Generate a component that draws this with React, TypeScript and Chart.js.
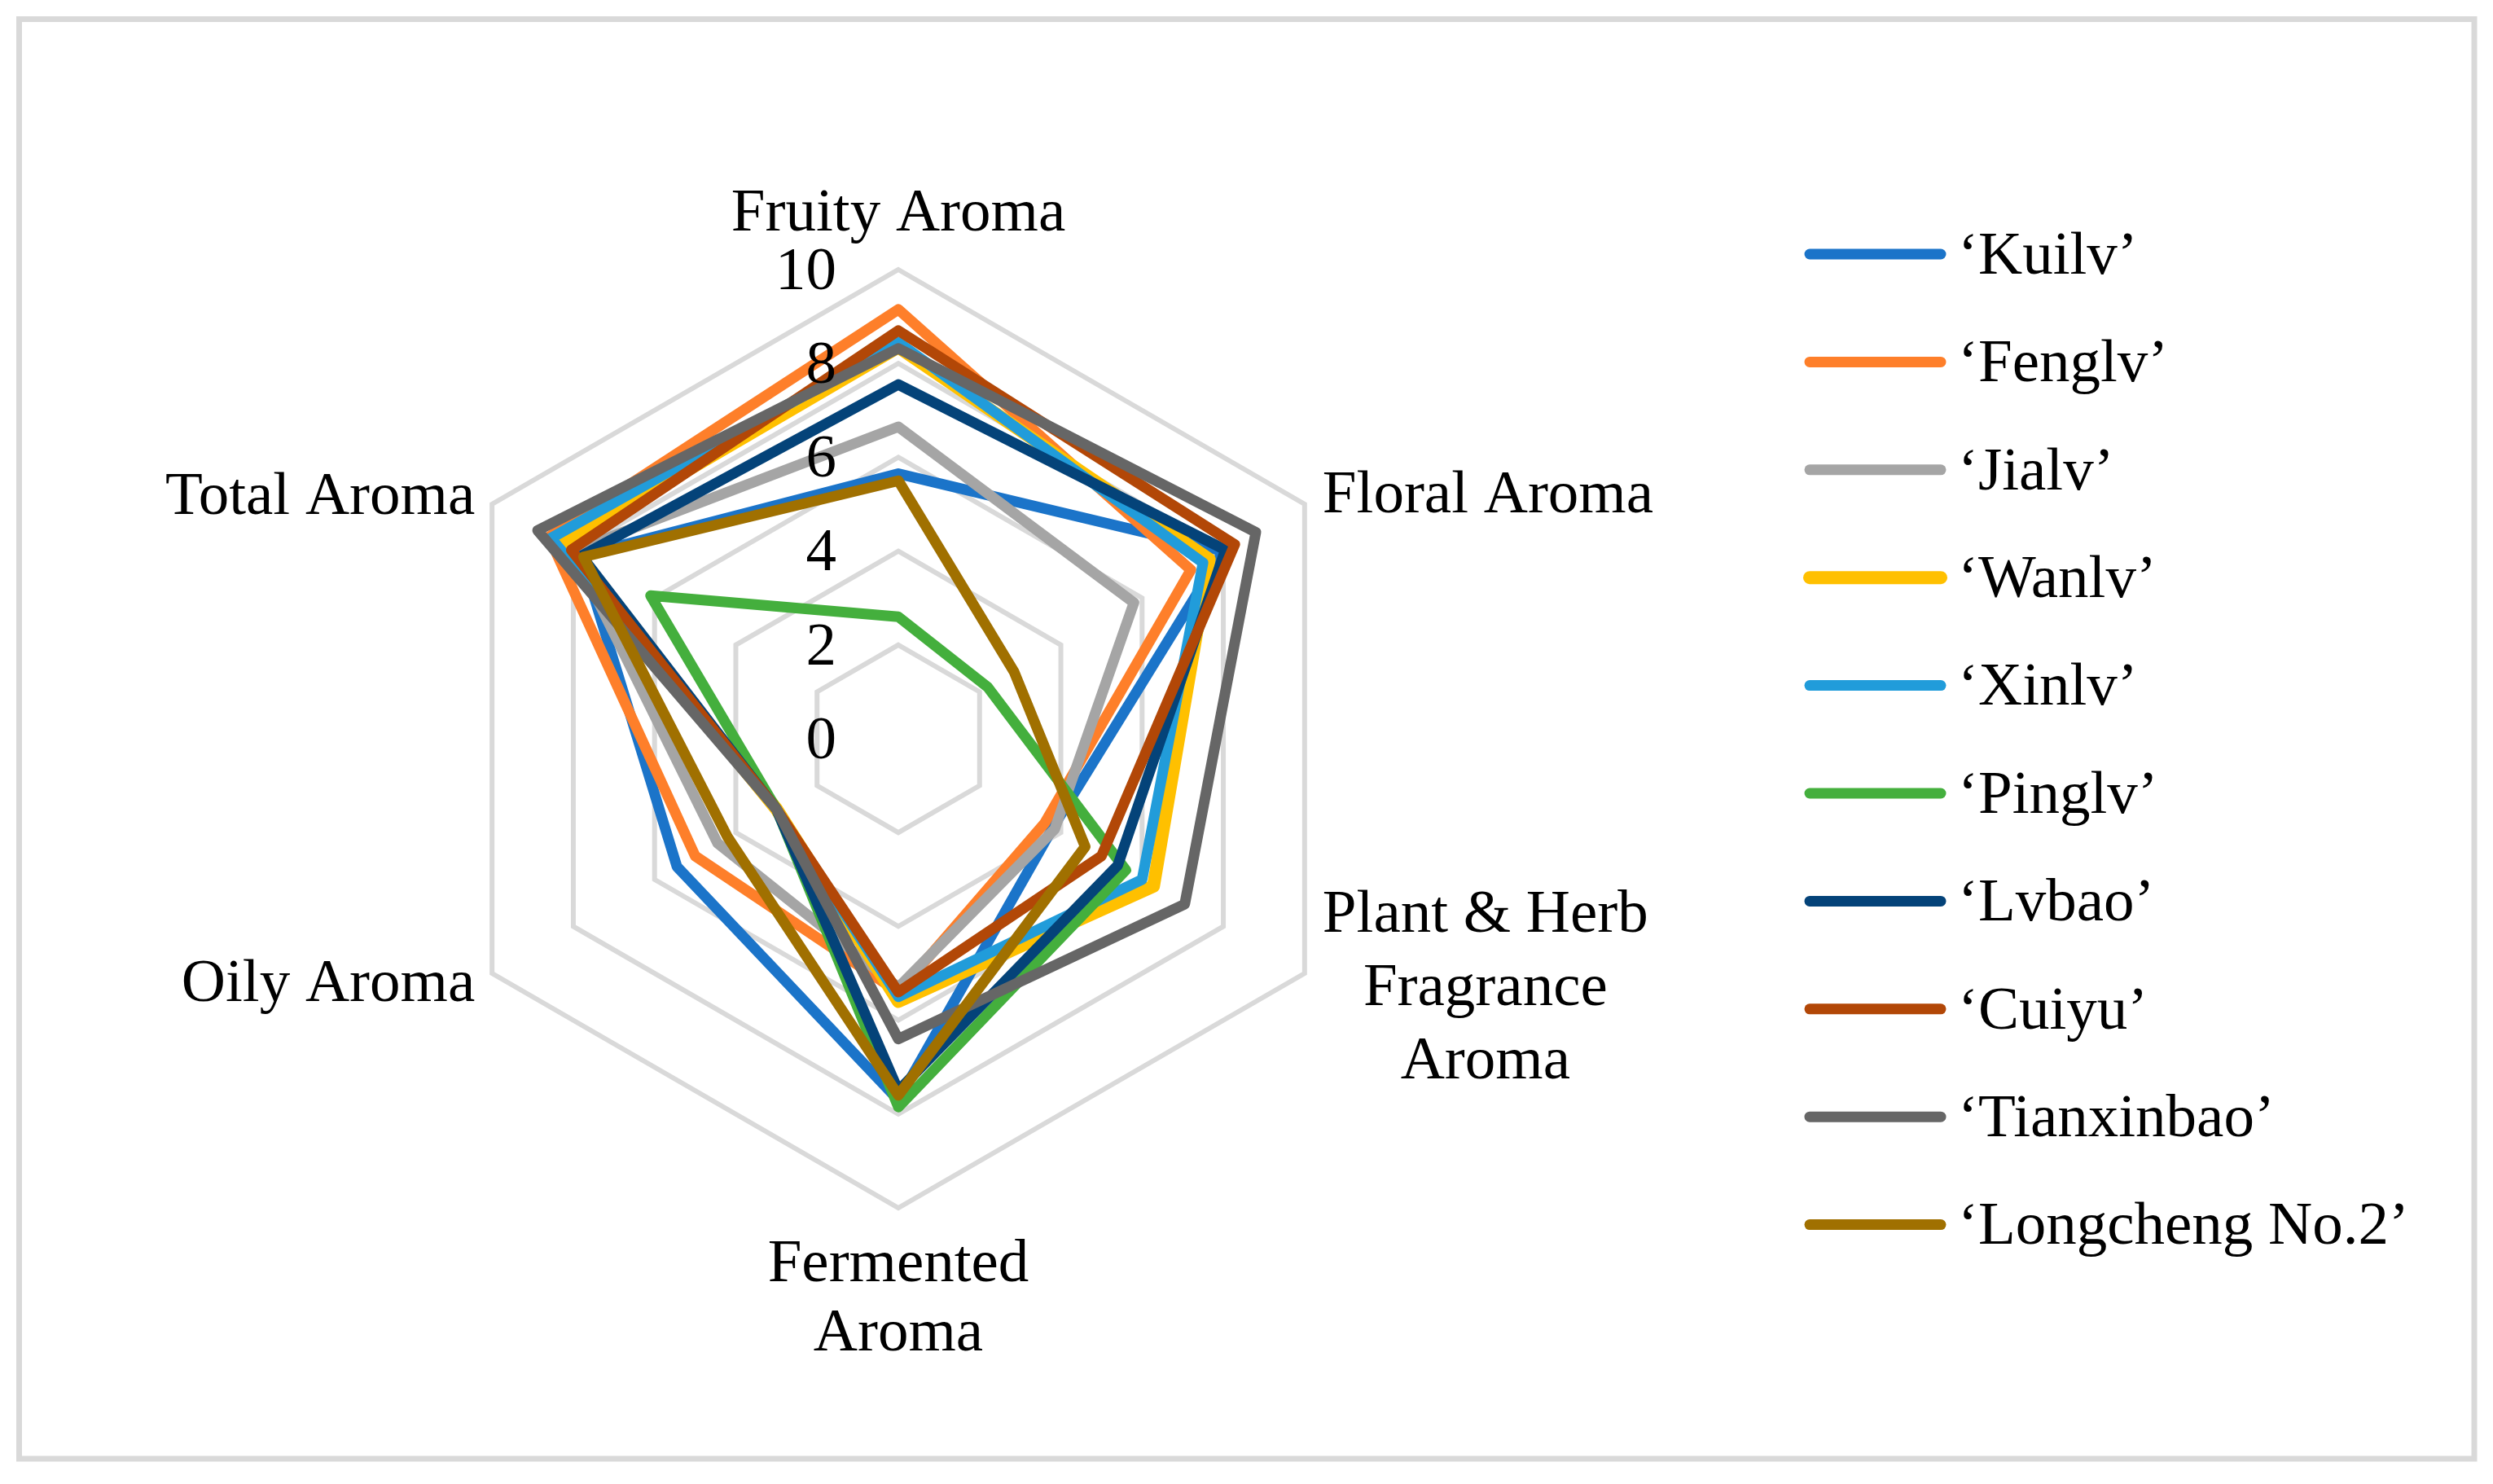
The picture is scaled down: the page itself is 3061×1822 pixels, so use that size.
import React, { useEffect, useRef } from "react";
import { Chart, registerables } from "chart.js";

Chart.register(...registerables);

// ---------- data ----------
const categories: (string | string[])[] = [
  "Fruity Aroma",
  "Floral Aroma",
  ["Plant & Herb", "Fragrance", "Aroma"],
  ["Fermented", "Aroma"],
  "Oily Aroma",
  "Total Aroma",
];

const seriesNames = [
  "\u2018Kuilv\u2019",
  "\u2018Fenglv\u2019",
  "\u2018Jialv\u2019",
  "\u2018Wanlv\u2019",
  "\u2018Xinlv\u2019",
  "\u2018Pinglv\u2019",
  "\u2018Lvbao\u2019",
  "\u2018Cuiyu\u2019",
  "\u2018Tianxinbao\u2019",
  "\u2018Longcheng No.2\u2019",
];

// order: Fruity, Floral, Plant & Herb, Fermented, Oily, Total
const kuilv = [5.65, 8.0, 3.8, 7.7, 5.45, 7.8];
const fenglv = [9.15, 7.2, 3.6, 5.4, 5.0, 8.6];
const jialv = [6.65, 5.8, 3.85, 5.3, 4.45, 8.0];
const wanlv = [8.35, 7.65, 6.28, 5.6, 3.0, 8.3];
const xinlv = [8.45, 7.5, 6.0, 5.5, 3.0, 8.55];
const pinglv = [2.6, 2.2, 5.6, 7.85, 3.0, 6.1];
const lvbao = [7.55, 8.05, 5.4, 7.5, 3.0, 7.8];
const cuiyu = [8.7, 8.28, 5.0, 5.4, 3.0, 8.05];
const tianxinbao = [8.32, 8.8, 7.05, 6.4, 3.0, 8.88];
const longcheng = [5.5, 2.85, 4.6, 7.6, 4.2, 7.75];

const seriesValues = [kuilv, fenglv, jialv, wanlv, xinlv, pinglv, lvbao, cuiyu, tianxinbao, longcheng];

const seriesColors = [
  "#1B74C9",
  "#FE7F2A",
  "#A5A5A5",
  "#FFC000",
  "#219CDA",
  "#44AF3D",
  "#044379",
  "#B24707",
  "#666666",
  "#A07000",
];
const seriesWidths = [13, 13, 13, 16, 13, 13, 13, 13, 13, 13];

const scaleMin = 0;
const scaleMax = 10;
const scaleStep = 2;

const FONT_FAMILY = '"Liberation Serif", "Times New Roman", Times, serif';
const FONT_SIZE = 75;
const TEXT_DY = 4;

const decorPlugin = {
  id: "decor",
  beforeDraw(chart: any) {
    const ctx = chart.ctx as CanvasRenderingContext2D;
    ctx.save();
    ctx.fillStyle = "#ffffff";
    ctx.fillRect(0, 0, chart.width, chart.height);
    ctx.strokeStyle = "#d9d9d9";
    ctx.lineWidth = 7;
    ctx.strokeRect(23.5, 23.5, 3014.5, 1767.5);
    ctx.restore();
  },
  afterDraw(chart: any) {
    const ctx = chart.ctx as CanvasRenderingContext2D;
    const scale = chart.scales.r;
    const R = scale.drawingArea;
    ctx.save();
    ctx.fillStyle = "#000000";
    ctx.font = `${FONT_SIZE}px ${FONT_FAMILY}`;
    ctx.textBaseline = "middle";

    // tick labels
    ctx.textAlign = "right";
    scale.ticks.forEach((t: any) => {
      const d = scale.getDistanceFromCenterForValue(t.value);
      ctx.fillText(String(t.value), scale.xCenter - 76, scale.yCenter - d + TEXT_DY);
    });

    // point labels
    const labels = chart.data.labels as (string | string[])[];
    labels.forEach((lab, i) => {
      const p = scale.getPointPosition(i, R);
      const lines = Array.isArray(lab) ? lab : [lab];
      const y0 = p.y + TEXT_DY;
      if (i === 0) {
        ctx.textAlign = "center";
        ctx.fillText(lines[0], p.x, y0 - 72);
      } else if (i === 1) {
        ctx.textAlign = "left";
        ctx.fillText(lines[0], p.x + 22, y0 - 14);
      } else if (i === 2) {
        const maxW = Math.max(...lines.map((l) => ctx.measureText(l).width));
        const cx = p.x + 22 + maxW / 2;
        ctx.textAlign = "center";
        lines.forEach((l, k) => ctx.fillText(l, cx, y0 - 75 + k * 90));
      } else if (i === 3) {
        ctx.textAlign = "center";
        lines.forEach((l, k) => ctx.fillText(l, p.x, y0 + 66 + k * 85));
      } else if (i === 4) {
        ctx.textAlign = "right";
        ctx.fillText(lines[0], p.x - 21, y0 + 10);
      } else {
        ctx.textAlign = "right";
        ctx.fillText(lines[0], p.x - 21, y0 - 12);
      }
    });

    // legend
    ctx.textAlign = "left";
    chart.data.datasets.forEach((ds: any, i: number) => {
      const y = 312 + 132.4 * i;
      ctx.strokeStyle = ds.borderColor;
      ctx.lineWidth = ds.borderWidth;
      ctx.lineCap = "round";
      ctx.beginPath();
      ctx.moveTo(2222, y);
      ctx.lineTo(2383, y);
      ctx.stroke();
      ctx.fillText(ds.label, 2404, y + TEXT_DY);
    });
    ctx.restore();
  },
};

export default function App() {
  const canvasRef = useRef<HTMLCanvasElement | null>(null);

  useEffect(() => {
    const canvas = canvasRef.current;
    if (!canvas) return;
    const chart = new Chart(canvas, {
      type: "radar",
      data: {
        labels: categories as any,
        datasets: seriesNames.map((name, i) => ({
          label: name,
          data: seriesValues[i],
          borderColor: seriesColors[i],
          backgroundColor: seriesColors[i],
          borderWidth: seriesWidths[i],
          borderJoinStyle: "round" as const,
          fill: false,
          pointRadius: 0,
          pointHoverRadius: 0,
          order: -i,
        })),
      },
      options: {
        animation: false,
        responsive: false,
        devicePixelRatio: 1,
        layout: { padding: { left: 527, top: 331, right: 1382, bottom: 339 } },
        plugins: {
          legend: { display: false },
          tooltip: { enabled: false },
          title: { display: false },
        },
        scales: {
          r: {
            min: scaleMin,
            max: scaleMax,
            ticks: { stepSize: scaleStep, display: false },
            grid: { color: "#d9d9d9", lineWidth: 6, circular: false },
            angleLines: { display: false },
            pointLabels: { display: false },
          },
        },
      },
      plugins: [decorPlugin],
    });
    return () => chart.destroy();
  }, []);

  return (
    <div style={{ position: "absolute", left: 0, top: 0, width: 3061, height: 1822 }}>
      <canvas ref={canvasRef} width={3061} height={1822} />
    </div>
  );
}
